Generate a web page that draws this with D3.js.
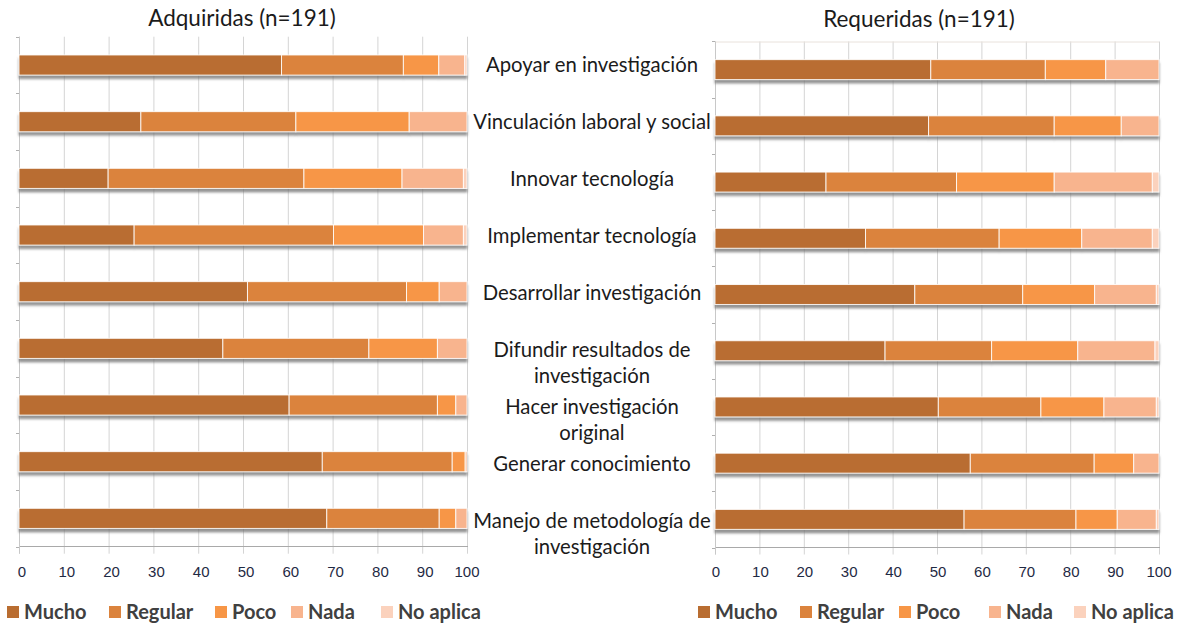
<!DOCTYPE html>
<html>
<head>
<meta charset="utf-8">
<script src="https://cdn.jsdelivr.net/npm/d3@7"></script>
<style>
  html, body { margin: 0; padding: 0; background: #fff; }
  svg { display: block; }
  .title { font-family: Lato, "Open Sans", sans-serif; font-size: 22.5px; fill: #1b1b1b; }
  .cat-label { font-family: Lato, "Open Sans", sans-serif; font-size: 20.3px; fill: #1b1b1b; }
  .tick-label { font-family: "Liberation Sans", Arial, sans-serif; font-size: 15px; fill: #1f2a44; }
  .legend-label { font-family: Lato, "Open Sans", sans-serif; font-size: 20px; font-weight: 700; fill: #404040; }
</style>
</head>
<body>
<div id="chart"></div>
<script>
const W = 1178;
const H = 625;

const CATEGORIES = [
  "Apoyar en investigación",
  "Vinculación laboral y social",
  "Innovar tecnología",
  "Implementar tecnología",
  "Desarrollar investigación",
  "Difundir resultados de investigación",
  "Hacer investigación original",
  "Generar conocimiento",
  "Manejo de metodología de investigación",
];
// how the category labels wrap in the middle column
const CATEGORY_LINES = [
  ["Apoyar en investigación"],
  ["Vinculación laboral y social"],
  ["Innovar tecnología"],
  ["Implementar tecnología"],
  ["Desarrollar investigación"],
  ["Difundir resultados de", "investigación"],
  ["Hacer investigación", "original"],
  ["Generar conocimiento"],
  ["Manejo de metodología de", "investigación"],
];

const SERIES = ["Mucho", "Regular", "Poco", "Nada", "No aplica"];
const COLORS = ["#b96d31", "#db833d", "#f79646", "#f8b48e", "#fbd2bd"];
const X_TICKS = [0, 10, 20, 30, 40, 50, 60, 70, 80, 90, 100];

// Adquiridas (n=191), percent
const ADQ_MUCHO   = [58.6, 27.2, 19.9, 25.7, 51.0, 45.5, 60.3, 67.7, 68.7];
const ADQ_REGULAR = [27.2, 34.6, 43.7, 44.5, 35.5, 32.6, 33.1, 29.0, 25.1];
const ADQ_POCO    = [7.9, 25.3, 21.9, 20.1, 7.3, 15.3, 4.1, 2.9, 3.7];
const ADQ_NADA    = [5.8, 12.9, 13.7, 8.9, 6.2, 6.6, 2.5, 0.4, 2.5];
const ADQ_NOAPL   = [0.5, 0, 0.8, 0.8, 0, 0, 0, 0, 0];

// Requeridas (n=191), percent
const REQ_MUCHO   = [48.6, 48.1, 25.0, 33.9, 45.0, 38.3, 50.3, 57.5, 56.1];
const REQ_REGULAR = [25.8, 28.3, 29.4, 30.1, 24.3, 24.0, 23.1, 27.9, 25.2];
const REQ_POCO    = [13.6, 15.1, 22.0, 18.6, 16.2, 19.4, 14.2, 8.9, 9.3];
const REQ_NADA    = [12.0, 8.5, 22.1, 15.9, 13.9, 17.4, 11.8, 5.7, 8.8];
const REQ_NOAPL   = [0, 0, 1.5, 1.5, 0.6, 0.9, 0.6, 0, 0.6];

const PANELS = [
  {
    title: "Adquiridas (n=191)",
    values: [ADQ_MUCHO, ADQ_REGULAR, ADQ_POCO, ADQ_NADA, ADQ_NOAPL],
    x0: 19, x1: 467, y0: 36.7, y1: 546.7, titleX: 242, titleY: 26,
    legendTextX: [24, 126, 232, 308, 398],
    tickShift: 3,
    topLine: false,
  },
  {
    title: "Requeridas (n=191)",
    values: [REQ_MUCHO, REQ_REGULAR, REQ_POCO, REQ_NADA, REQ_NOAPL],
    x0: 715, x1: 1159, y0: 41.5, y1: 547.5, titleX: 919, titleY: 26.5,
    legendTextX: [715, 817, 916, 1006, 1091],
    tickShift: 1,
    topLine: true,
  },
];

const svg = d3.select("#chart").append("svg")
  .attr("width", W).attr("height", H)
  .attr("viewBox", `0 0 ${W} ${H}`);

const defs = svg.append("defs");
defs.append("filter").attr("id", "barShadow")
  .attr("x", "-2%").attr("y", "-20%").attr("width", "104%").attr("height", "160%")
  .append("feDropShadow")
  .attr("dx", 0).attr("dy", 3.5).attr("stdDeviation", 1.1)
  .attr("flood-color", "#6f6f6f").attr("flood-opacity", 0.75);

function drawPanel(p) {
  const g = svg.append("g");
  const x = d3.scaleLinear().domain([0, 100]).range([p.x0, p.x1]);
  const y = d3.scaleBand().domain(CATEGORIES).range([p.y0, p.y1])
    .paddingInner(0.645).paddingOuter(0.3225);

  const rows = CATEGORIES.map((c, i) => {
    const row = { cat: c };
    SERIES.forEach((s, k) => { row[s] = p.values[k][i]; });
    return row;
  });
  const stacked = d3.stack().keys(SERIES)(rows);

  // vertical gridlines, running past the axis as tick marks
  g.append("g").selectAll("line").data(X_TICKS).join("line")
    .attr("x1", (d) => x(d) + 0.5).attr("x2", (d) => x(d) + 0.5)
    .attr("y1", p.y0).attr("y2", p.y1 + 7)
    .attr("stroke", "#d4d4d4").attr("stroke-width", 1);

  if (p.topLine) {
    g.append("line")
      .attr("x1", p.x0).attr("x2", p.x1)
      .attr("y1", p.y0 + 0.5).attr("y2", p.y0 + 0.5)
      .attr("stroke", "#e9e2dc");
  }

  // bottom axis line
  g.append("line")
    .attr("x1", p.x0).attr("x2", p.x1 + 1)
    .attr("y1", Math.round(p.y1) - 0.5).attr("y2", Math.round(p.y1) - 0.5)
    .attr("stroke", "#a9a9a9");

  // left axis with small ticks at category boundaries
  g.append("line")
    .attr("x1", p.x0 + 0.5).attr("x2", p.x0 + 0.5)
    .attr("y1", p.y0).attr("y2", p.y1 + 7)
    .attr("stroke", "#c8c8c8");
  const bounds = CATEGORIES.map((c) => y(c) - (y.step() - y.bandwidth()) / 2).concat([p.y1]);
  g.append("g").selectAll("line").data(bounds).join("line")
    .attr("x1", p.x0 - 3).attr("x2", p.x0)
    .attr("y1", (d) => Math.round(d) + 0.5).attr("y2", (d) => Math.round(d) + 0.5)
    .attr("stroke", "#b0b0b0");

  // bars, one group per category so the shadow is continuous
  const rowG = g.append("g").selectAll("g.row").data(CATEGORIES).join("g")
    .attr("class", "row")
    .attr("filter", "url(#barShadow)");
  rowG.each(function (cat, i) {
    const segs = stacked.map((layer, k) => ({ k, a: layer[i][0], b: layer[i][1] }))
      .filter((s) => s.b - s.a > 0);
    d3.select(this).selectAll("rect").data(segs).join("rect")
      .attr("x", (s) => x(s.a))
      .attr("width", (s) => x(s.b) - x(s.a))
      .attr("y", y(cat))
      .attr("height", y.bandwidth())
      .attr("fill", (s) => COLORS[s.k])
      .attr("stroke", "#ffffff")
      .attr("stroke-opacity", 0.85)
      .attr("stroke-width", 1);
  });

  // tick labels
  g.append("g").selectAll("text").data(X_TICKS).join("text")
    .attr("class", "tick-label")
    .attr("x", (d) => x(d) + (d === 100 ? 0 : p.tickShift))
    .attr("y", 577)
    .attr("text-anchor", "middle")
    .text((d) => d);

  // title
  g.append("text").attr("class", "title")
    .attr("x", p.titleX).attr("y", p.titleY)
    .attr("text-anchor", "middle")
    .text(p.title);

  // legend
  const leg = g.append("g").selectAll("g").data(SERIES).join("g")
    .attr("transform", (d, k) => `translate(${p.legendTextX[k]},0)`);
  leg.append("rect")
    .attr("x", -17).attr("y", 606).attr("width", 12).attr("height", 12)
    .attr("fill", (d, k) => COLORS[k]);
  leg.append("text").attr("class", "legend-label")
    .attr("x", 0).attr("y", 619)
    .text((d) => d);

  return y;
}

drawPanel(PANELS[0]);
drawPanel(PANELS[1]);

// category labels in the middle column (belong to the right chart)
const labelX = 592;
const labelY = d3.scalePoint().domain(CATEGORIES).range([72, 528]);
const labelG = svg.append("g").selectAll("text").data(CATEGORIES).join("text")
  .attr("class", "cat-label")
  .attr("text-anchor", "middle")
  .attr("x", labelX)
  .attr("y", (c) => labelY(c));
labelG.each(function (c, i) {
  d3.select(this).selectAll("tspan").data(CATEGORY_LINES[i]).join("tspan")
    .attr("x", labelX)
    .attr("dy", (d, j) => (j === 0 ? 0 : 26))
    .text((d) => d);
});
</script>
</body>
</html>
